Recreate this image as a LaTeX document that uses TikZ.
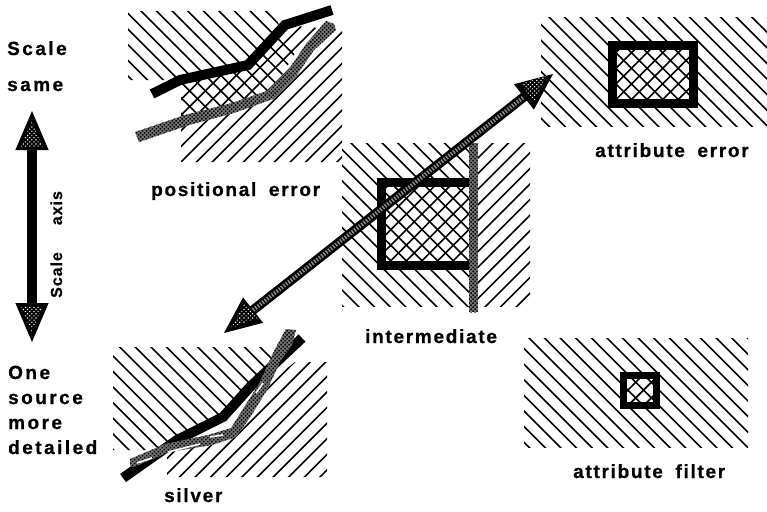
\documentclass[tikz,border=0pt]{standalone}
\usepackage{fontspec}
\setmainfont{Liberation Sans}
\newfontfamily\panelfont{Liberation Sans}[UprightFont=*-Bold,LetterSpace=9,WordSpace=1.8,FakeBold=0.8]
\newfontfamily\sidefont{Liberation Sans}[UprightFont=*-Bold,LetterSpace=13,WordSpace=3,FakeBold=0.8]
\newfontfamily\axisfont{Liberation Sans}[UprightFont=*-Bold,LetterSpace=6,WordSpace=5,FakeBold=0.6]
\usetikzlibrary{patterns.meta,arrows.meta}
% hatching: phase, then clip path
\newcommand{\backhatch}[2]{\begin{scope}\clip #2;\foreach \n in {-35,...,55} \draw[hatchline] ({#1+\n*15.6},0) -- ++(560,560);\end{scope}}
\newcommand{\fwdhatch}[2]{\begin{scope}\clip #2;\foreach \n in {0,...,85} \draw[hatchline] ({#1+\n*15.6},0) -- ++(-560,560);\end{scope}}
\begin{document}
\begin{tikzpicture}[
        x=1pt, y=-1pt,
        hatchline/.style={line width=1.6pt, black},
        blackline/.style={line width=10pt, black, line join=miter},
        stippled/.style={pattern={Dots[distance=2.8pt,radius=1.05pt,angle=45]}, preaction={fill=black!55}},
        specks/.style={pattern={Dots[distance=3pt,radius=0.8pt,angle=45]}, pattern color=white},
        frame/.style={line width=9pt, black},
        panel/.style={font=\panelfont\fontsize{19}{19}\selectfont, anchor=base west, inner sep=0pt},
        side/.style={font=\sidefont\fontsize{19}{19}\selectfont, anchor=base west, inner sep=0pt},
        bigarrow/.style={line width=9.5pt, black},
        bighead/.tip={Triangle[length=37pt,width=32pt,fill=black,line width=1pt]},
        axishead/.tip={Triangle[length=39pt,width=33pt,fill=black,line width=1pt]}
    ]
        \useasboundingbox (0,0) rectangle (767,511);

        % Positional error
        \backhatch{5.2}{(128,11) -- (270,11) -- (297,50) -- (270,95) -- (233,108) -- (181,118) -- (181,80) -- (128,80) -- cycle}
        \fwdhatch{15.4}{(181,162) -- (342,162) -- (342,30) -- (285,25) -- (248,65) -- (181,80) -- cycle}
        \fill[stippled] (135,132) -- (185,115) -- (232,103) -- (267,91) -- (289,69) -- (306,44) -- (326,21) -- (334,24) -- (336,30) -- (314,50) -- (297,75) -- (273,99) -- (234,113) -- (189,125) -- (139,142) -- cycle;
        \draw[blackline] (152,94) -- (180,80) -- (248,65) -- (285,25) -- (332,10);

        % Intermediate
        \backhatch{5.2}{(342,143) rectangle (473,306)}
        \fwdhatch{12}{(473,143) rectangle (530,306)}
        \fwdhatch{12}{(381,182) rectangle (470,266)}
        \draw[frame] (470,182.5) -- (381.5,182.5) -- (381.5,265.5) -- (470,265.5);
        \fill[stippled] (469,143) rectangle (477.5,312);

        % Attribute error
        \backhatch{1.6}{(541,18) rectangle (767,126)}
        \fwdhatch{13.4}{(612,45) rectangle (694,104)}
        \draw[frame] (612.5,45.5) rectangle (693.5,103.5);

        % Attribute filter
        \backhatch{3.8}{(524,338) rectangle (748,447)}
        \fwdhatch{4}{(624,376) rectangle (656,405)}
        \draw[frame, line width=7.5pt] (623.5,375.5) rectangle (656.5,405.5);

        % Silver
        \backhatch{6.7}{(113,347) -- (272,347) -- (280,360) -- (250,387) -- (223,417) -- (177,440) -- (160,450) -- (113,450) -- cycle}
        \fwdhatch{1.4}{(167,477) -- (327,477) -- (327,362) -- (295,362) -- (263,387) -- (247,413) -- (233,433) -- (210,440) -- (167,448) -- cycle}
        \draw[blackline] (123,478) -- (177,440) -- (223,417) -- (250,387) -- (302,338);
        \fill[stippled] (130,459) -- (165,444) -- (208,435) -- (231,428) -- (243,409) -- (259,384) -- (273,353) -- (286,329) -- (296,330) -- (292,345) -- (281,360) -- (267,390) -- (251,416) -- (236,437) -- (212,445) -- (169,452) -- (134,467) -- (130,466) -- cycle;
        \draw[white, line width=1.6pt] (137,463) -- (152,458) (168,452) -- (200,444) (210,437) -- (223,435) (256,393) -- (263,383);

        % Arrows
        \coordinate (scaletop) at (32,111);
        \coordinate (scalebottom) at (32,342);
        \coordinate (tipupper) at (553,74);
        \coordinate (tiplower) at (224,333);
        \draw[bigarrow, axishead-axishead] (scaletop) -- (scalebottom);
        \draw[bigarrow, bighead-bighead] (tiplower) -- (tipupper);
        \draw[line width=4pt, black!45, dash pattern=on 1.5pt off 1.5pt, shorten <=37pt, shorten >=37pt] (tiplower) -- (tipupper);
        \fill[specks] (546,76) -- (521,84) -- (534,102) -- cycle;
        \fill[specks] (231,328) -- (245,303) -- (257,318) -- cycle;
        \fill[specks] (32,121) -- (21,147) -- (43,147) -- cycle;
        \fill[specks] (32,332) -- (21,306) -- (43,306) -- cycle;

        % Labels
        \node[side] (scaleword) at (7,55) {Scale};
        \node[side] (sameword) at (7,91) {same};
        \node[side] (oneword) at (8,379) {One};
        \node[side] (sourceword) at (8,404) {source};
        \node[side] (moreword) at (8,429) {more};
        \node[side] (detailedword) at (8,454) {detailed};
        \node[panel] (positional) at (151,196) {positional error};
        \node[panel] (intermediate) at (365,343) {intermediate};
        \node[panel] (attrerror) at (595,157) {attribute error};
        \node[panel] (attrfilter) at (573,478) {attribute filter};
        \node[panel] (silver) at (164,502) {silver};
        \node[anchor=base west, inner sep=0pt, font=\axisfont\fontsize{16}{16}\selectfont, rotate=90] (axisword) at (62,298) {Scale axis};
\end{tikzpicture}
\end{document}
